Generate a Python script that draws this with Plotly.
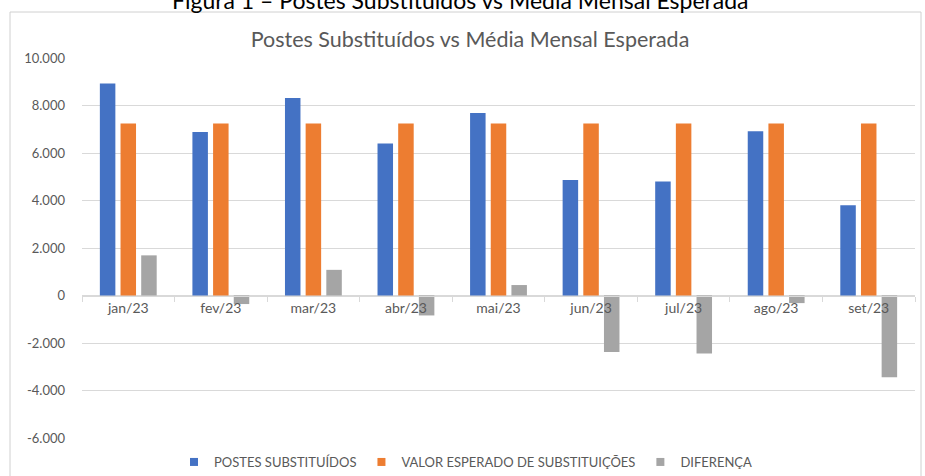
import plotly.graph_objects as go

categories = ["jan/23", "fev/23", "mar/23", "abr/23", "mai/23", "jun/23", "jul/23", "ago/23", "set/23"]
postes_substituidos = [8930, 6880, 8320, 6400, 7680, 4860, 4800, 6920, 3800]
valor_esperado = [7240, 7240, 7240, 7240, 7240, 7240, 7240, 7240, 7240]
diferenca = [1690, -360, 1080, -840, 440, -2380, -2440, -320, -3440]

series_names = ["POSTES SUBSTITUÍDOS", "VALOR ESPERADO DE SUBSTITUIÇÕES", "DIFERENÇA"]
series_colors = ["#4472C4", "#ED7D31", "#A5A5A5"]
series_values = [postes_substituidos, valor_esperado, diferenca]

y_tickvals = [-6000, -4000, -2000, 0, 2000, 4000, 6000, 8000, 10000]
y_ticktext = ["-6.000", "-4.000", "-2.000", "0", "2.000", "4.000", "6.000", "8.000", "10.000"]

FONT = "Lato, Carlito, Calibri, sans-serif"
GRAY_TXT = "#595959"
GRID = "#d9d9d9"

fig = go.Figure()
for name, color, vals in zip(series_names, series_colors, series_values):
    fig.add_trace(go.Bar(name=name, x=categories, y=vals, legendgroup=name, showlegend=False,
                         marker=dict(color=color, line=dict(width=0))))
# legend entries with small square keys (Excel style)
for name, color in zip(series_names, series_colors):
    fig.add_trace(go.Scatter(name=name, x=[None], y=[None], mode="markers", legendgroup=name,
                             marker=dict(symbol="square", size=8, color=color)))

fig.update_layout(
    width=925, height=476,
    margin=dict(l=82, r=10, t=58, b=38, autoexpand=False),
    paper_bgcolor="white", plot_bgcolor="white",
    barmode="group", bargap=0.33, bargroupgap=0.25,
    font=dict(family=FONT, color=GRAY_TXT, size=13),
    title=dict(text="Postes Substituídos vs Média Mensal Esperada",
               x=470 / 925, xanchor="center", y=1 - 39 / 476, yanchor="middle",
               font=dict(family=FONT, size=21.5, color=GRAY_TXT)),
    showlegend=True,
    legend=dict(orientation="h", x=(466 - 82) / 833, xanchor="center",
                y=-(462 - 438) / 380, yanchor="middle",
                font=dict(family=FONT, size=13, color=GRAY_TXT),
                itemwidth=30, traceorder="normal", bgcolor="rgba(0,0,0,0)"),
    xaxis=dict(type="category", anchor="free", position=6000 / 16000,
               showline=True, linecolor=GRID, linewidth=1,
               ticks="outside", tickson="boundaries", ticklen=5, tickcolor=GRID,
               tickfont=dict(family=FONT, size=14, color=GRAY_TXT),
               showgrid=False, zeroline=False),
    yaxis=dict(range=[-6000, 10000], tickvals=y_tickvals, ticktext=y_ticktext,
               showgrid=True, gridcolor=GRID, gridwidth=1,
               zeroline=False, showline=False, ticks="", ticklabelstandoff=16,
               tickfont=dict(family=FONT, size=13, color=GRAY_TXT)),
)

# outer chart border (Excel chart area)
fig.add_shape(type="rect", xref="paper", yref="paper",
              x0=(10 - 82) / 833, x1=(921 - 82) / 833,
              y0=-(500 - 438) / 380, y1=1 + (58 - 12) / 380,
              line=dict(color="#d0d0d0", width=1), fillcolor="rgba(0,0,0,0)", layer="below")

# document caption, partly cut at the top edge
fig.add_annotation(text="Figura 1 – Postes Substituídos vs Média Mensal Esperada",
                   xref="paper", yref="paper", x=(460 - 82) / 833, y=1 + (58 - 16) / 380,
                   xanchor="center", yanchor="bottom", showarrow=False,
                   font=dict(family=FONT, size=23, color="#000000"))

fig.write_html("out.html", config={"displayModeBar": False},
               post_script="document.body.style.margin='0';document.body.style.overflow='hidden';")
